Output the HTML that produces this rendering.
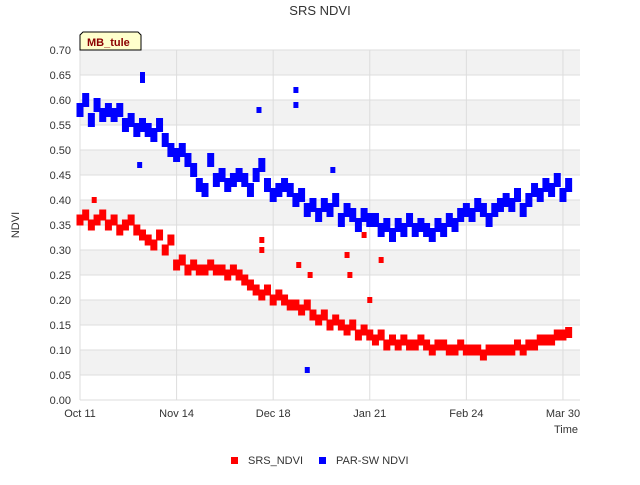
<!DOCTYPE html>
<html><head><meta charset="utf-8"><style>
body{margin:0;background:#fff;font-family:"Liberation Sans","DejaVu Sans",sans-serif}
</style></head><body>
<svg id="chart" width="640" height="480" xmlns="http://www.w3.org/2000/svg" font-family="Liberation Sans, DejaVu Sans, sans-serif">
<rect width="640" height="480" fill="#fff"/>
<text x="320" y="15" text-anchor="middle" font-size="13" fill="#333">SRS NDVI</text>
<g id="grid"></g><g id="marks"></g><g id="axes"></g>
<g>
<path d="M80,50 L80,35 L83,32 L138,32 L141,35 L141,50 Z" fill="#ffffcc" stroke="#000" stroke-width="1"/>
<text x="87" y="46" font-size="11" font-weight="bold" fill="#8b0000">MB_tule</text>
</g>
<text transform="translate(19,225) rotate(-90)" text-anchor="middle" font-size="11" fill="#333">NDVI</text>
<text x="578" y="433" text-anchor="end" font-size="11" fill="#333">Time</text>
<g><rect x="231" y="457" width="7" height="7" fill="#ff0000"/><text x="248" y="464" font-size="11" fill="#333">SRS_NDVI</text></g>
<g><rect x="319" y="457" width="7" height="7" fill="#0000ff"/><text x="336" y="464" font-size="11" fill="#333">PAR-SW NDVI</text></g>
</svg>
<script>
const days=[];for(let d=0;d<=172;d+=2)days.push(d);
const srsValues=[.36,.37,.35,.36,.37,.35, .36,.34,.35,.36,.34, .33,.32,.31,.33,.30,.32, .27,.28,.26,.27,.26, .26,.27,.26,.26,.25,.26,.25, .24,.23,.22, .21,.22,.20,.21,.20,.19, .19,.18,.19, .17,.16,.17,.15,.16,.15, .14,.15,.13,.14,.13, .12,.13,.11,.12,.11,.12,.11,.11,.12, .11,.10,.11,.11,.10,.10,.11,.10,.10,.10,.09,.10,.10,.10, .10,.10,.11,.10,.11,.11,.12, .12,.12,.13,.13,.135];
const parValues=[.58,.60,.56,.59,.57,.58, .57,.58,.55,.56,.54, .55,.54,.53,.55,.52,.50, .49,.50,.48,.46,.43, .42,.48,.44,.45,.43,.44,.45, .44,.42,.45, .47,.43,.41,.42,.43,.42, .40,.41,.38, .39,.37,.39,.38,.40,.36, .38,.37,.35,.37,.36, .36,.34,.35,.33,.35,.34,.36,.34,.35, .34,.33,.35,.34,.36,.35,.37,.38,.37,.39,.38,.36,.38,.39, .40,.39,.41,.38,.40,.42,.41, .43,.42,.44,.41,.43];
const srsOutDays=[5,64,64,77,81,94,95,102,106,100];
const srsOutVals=[.40,.32,.30,.27,.25,.29,.25,.20,.28,.33];
const parOutDays=[22,22,63,76,76,80,89,21];
const parOutVals=[.65,.64,.58,.62,.59,.06,.46,.47];
const yTicks=[0,.05,.1,.15,.2,.25,.3,.35,.4,.45,.5,.55,.6,.65,.7];
const xTickDays=[0,34,68,102,136,170];
const xTickLabels=["Oct 11","Nov 14","Dec 18","Jan 21","Feb 24","Mar 30"];
const X0=80,X1=580,Y0=400,Y1=50,DMAX=176;
const xs=d=>X0+d/DMAX*(X1-X0);
const ys=v=>Y0-v/0.7*(Y0-Y1);
const NS="http://www.w3.org/2000/svg";
function mk(t,a,p){const e=document.createElementNS(NS,t);for(const k in a)e.setAttribute(k,a[k]);p.appendChild(e);return e;}
const grid=document.getElementById('grid'),marks=document.getElementById('marks'),axes=document.getElementById('axes');
for(let i=0;i<yTicks.length-1;i++){
 if((yTicks.length-2-i)%2===0){const r=mk('rect',{x:X0,y:ys(yTicks[i+1]),width:X1-X0,height:ys(yTicks[i])-ys(yTicks[i+1]),fill:'#f2f2f2'},grid);
 
 }
}
yTicks.forEach(v=>{
 const l=mk('line',{x1:X0,x2:X1,y1:ys(v),y2:ys(v),stroke:'#ddd'},grid);
 
 
 const t=mk('text',{x:X0-9,y:ys(v)+4,'text-anchor':'end','font-size':11,fill:'#333'},axes);
 
 
 t.textContent=v.toFixed(2);
});
xTickDays.forEach((d,i)=>{
 const l=mk('line',{x1:xs(d),x2:xs(d),y1:Y1,y2:Y0,stroke:'#ddd'},grid);
 
 
 const t=mk('text',{x:xs(d),y:Y0+17,'text-anchor':'middle','font-size':11,fill:'#333'},axes);
 
 
 t.textContent=xTickLabels[i];
});
function pts(ds,vs,col,name,w,h){ds.forEach((d,i)=>{
 const r=mk('rect',{x:xs(d)-w/2,y:ys(vs[i])-h/2,width:w,height:h,fill:col},marks);
 
 
});}
pts(days,parValues,'#0000ff','par-sw-point',7,14);
pts(parOutDays,parOutVals,'#0000ff','par-sw-point',5,6);
pts(days,srsValues,'#ff0000','srs-point',7,11);
pts(srsOutDays,srsOutVals,'#ff0000','srs-point',5,6);
</script>
</body></html>
